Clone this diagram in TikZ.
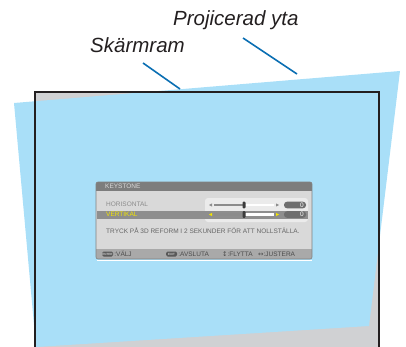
\documentclass[tikz,border=0pt]{standalone}
\usepackage{fontspec}
\setmainfont{Liberation Sans}
\newfontfamily\symfont{DejaVu Sans}
\usetikzlibrary{positioning}
\definecolor{projblue}{HTML}{A9DFF8}
\definecolor{screengray}{HTML}{D0D1D3}
\definecolor{leadblue}{HTML}{0B6FB3}
\definecolor{framegray}{HTML}{231F20}
\definecolor{osdbody}{HTML}{D9D9D9}
\definecolor{osdpanel}{HTML}{EBEBEB}
\definecolor{osddark}{HTML}{7D7D7D}
\definecolor{osdpill}{HTML}{6E6E6E}
\definecolor{osdhl}{HTML}{8E8E8E}
\definecolor{osdfoot}{HTML}{A9A9A9}
\definecolor{osdtext}{HTML}{666666}
\definecolor{osdyel}{HTML}{F2E400}
\definecolor{osdknob}{HTML}{3C3C3C}

\begin{document}
\begin{tikzpicture}[x=1pt, y=-1pt,
  lbl/.style={font=\fontsize{20.5}{22}\selectfont\itshape, text=framegray,
              inner sep=0pt, anchor=base west},
  lead/.style={leadblue, line width=1.6pt},
  osd/.style={font=\fontsize{6.5}{7}\selectfont, inner sep=0pt, anchor=west},
  foot/.style={osd, font=\fontsize{6.5}{7}\selectfont, text=black!70},
  keycap/.style={fill=black!65, rounded corners=1.5pt, text=white,
                 font=\fontsize{3}{3}\selectfont, minimum width=11pt,
                 minimum height=5pt, inner sep=0.3pt}]
\useasboundingbox (0,0) rectangle (406,347);
% screen and projected area
\fill[screengray] (35,92) rectangle (379,347);
\fill[projblue] (14,103) -- (400,71) -- (369,326) -- (36,347) -- cycle;
\draw[framegray, line width=2.5pt] (35,347) -- (35,92) -- (379,92) -- (379,347);
% labels
\node[lbl] (proj) at (173,26) {Projicerad yta};
\node[lbl] (skarm) at (90,53) {Skärmram};
\coordinate (projA) at (243,38);
\coordinate (projB) at (297,74);
\coordinate (skarmA) at (143,63);
\coordinate (skarmB) at (180,89);
\draw[lead] (projA) -- (projB);
\draw[lead] (skarmA) -- (skarmB);
% osd menu
\begin{scope}
\clip[rounded corners=2pt] (96,182) rectangle (312,259);
\fill[osdbody] (96,182) rectangle (312,259);
\fill[osddark] (96,182) rectangle (312,191);
\fill[osdfoot] (96,249) rectangle (312,259);
\end{scope}
\draw[black!50, line width=0.6pt, rounded corners=2pt] (96,182) rectangle (312,259);
\draw[white, line width=0.8pt] (97,260) -- (312,260);
\fill[osdpanel, rounded corners=3pt] (205,198) rectangle (308,222);
\fill[osdhl] (96.5,210.5) rectangle (308,218.5);
\node[osd, text=black!15] (title) at (105,186.5) {KEYSTONE};
\node[osd, text=black!45] (hor) at (106,204.5) {HORISONTAL};
\node[osd, text=osdyel] (ver) at (106,214.5) {VERTIKAL};
\node[osd, text=osdtext] (msg) at (106,230.5) {TRYCK PÅ 3D REFORM I 2 SEKUNDER FÖR ATT NOLLSTÄLLA.};
% sliders
\foreach \y/\c [count=\i] in {205/black!45, 214.5/osdyel} {
  \fill[\c] (209,\y) -- (212,\y-1.6) -- (212,\y+1.6) -- cycle;
  \fill[black!45] (214,\y-1.2) rectangle (244,\y+1.2);
  \fill[white] (244,\y-1.2) rectangle (274,\y+1.2);
  \fill[\c] (279,\y) -- (276,\y-1.6) -- (276,\y+1.6) -- cycle;
  \fill[osdknob, rounded corners=1pt] (242.5,\y-3.3) rectangle (245.5,\y+3.3);
  \fill[osdpill, rounded corners=3pt] (284,\y-3.3) rectangle (306,\y+3.3);
  \node[osd, text=white] (val\i) at (300,\y) {0};
}
% footer
\node[keycap] (enter) at (107.5,254) {ENTER};
\node[foot, right=1pt of enter] (valj) {:VÄLJ};
\node[keycap] (exit) at (171.5,254) {EXIT};
\node[foot, right=1pt of exit] (avsluta) {:AVSLUTA};
\node[foot] (flytta) at (222,254) {{\symfont ↕}:FLYTTA};
\node[foot] (justera) at (258,254) {{\symfont ↔}:JUSTERA};
\end{tikzpicture}
\end{document}
